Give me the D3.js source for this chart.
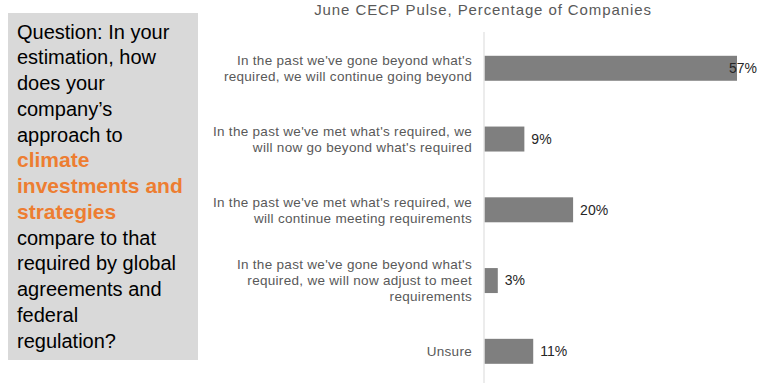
<!DOCTYPE html>
<html><head><meta charset="utf-8">
<script src="https://cdn.jsdelivr.net/npm/d3@7"></script>
<style>body{margin:0;background:#fff}svg{display:block}</style>
</head><body>
<svg id="c" width="770" height="383"></svg>
<script>
const title = "June CECP Pulse, Percentage of Companies";
const categories = [
  "In the past we've gone beyond what's required, we will continue going beyond",
  "In the past we've met what's required, we will now go beyond what's required",
  "In the past we've met what's required, we will continue meeting requirements",
  "In the past we've gone beyond what's required, we will now adjust to meet requirements",
  "Unsure"
];
const categoryLines = [
  ["In the past we've gone beyond what's", "required, we will continue going beyond"],
  ["In the past we've met what's required, we", "will now go beyond what's required"],
  ["In the past we've met what's required, we", "will continue meeting requirements"],
  ["In the past we've gone beyond what's", "required, we will now adjust to meet", "requirements"],
  ["Unsure"]
];
const values = [57, 9, 20, 3, 11];
const questionLines = [
  {t:"Question: In your", hl:false},
  {t:"estimation, how", hl:false},
  {t:"does your", hl:false},
  {t:"company\u2019s", hl:false},
  {t:"approach to", hl:false},
  {t:"climate", hl:true},
  {t:"investments and", hl:true},
  {t:"strategies", hl:true},
  {t:"compare to that", hl:false},
  {t:"required by global", hl:false},
  {t:"agreements and", hl:false},
  {t:"federal", hl:false},
  {t:"regulation?", hl:false}
];

const svg = d3.select("#c");
const font = "'Liberation Sans', Arial, sans-serif";

// Question box
svg.append("rect").attr("x", 8).attr("y", 13).attr("width", 190).attr("height", 347).attr("fill", "#d9d9d9");
const qt = svg.append("text").attr("font-family", font);
questionLines.forEach((l, i) => {
  qt.append("tspan").attr("x", 17).attr("y", 38.5 + i * 25.75)
    .attr("fill", l.hl ? "#ed7d31" : "#000")
    .attr("font-weight", l.hl ? "bold" : "normal")
    .attr("font-size", l.hl ? 21 : 20)
    .text(l.t);
});

// Chart
const x0 = 484.5;
const x = d3.scaleLinear().domain([0, 57]).range([x0, 737]);
const y = d3.scaleBand().domain(categories).range([32.9, 386.7]).paddingInner(0.647).paddingOuter(0.3235);

svg.append("text").attr("x", 483).attr("y", 15).attr("text-anchor", "middle")
  .attr("font-family", font).attr("font-size", 15).attr("letter-spacing", 0.9)
  .attr("fill", "#595959").text(title);

svg.selectAll("rect.bar").data(values).join("rect").attr("class", "bar")
  .attr("x", x0).attr("y", (d, i) => y(categories[i]))
  .attr("width", d => x(d) - x0).attr("height", y.bandwidth())
  .attr("fill", "#7f7f7f");

svg.append("line").attr("x1", x0 - 0.5).attr("x2", x0 - 0.5).attr("y1", 32).attr("y2", 383)
  .attr("stroke", "#d9d9d9").attr("stroke-width", 1);

// Category labels
categories.forEach((c, i) => {
  const lines = categoryLines[i];
  const cy = y(c) + y.bandwidth() / 2;
  const t = svg.append("text").attr("font-family", font).attr("font-size", 13.5)
    .attr("letter-spacing", 0.3)
    .attr("fill", "#595959").attr("text-anchor", "end");
  lines.forEach((l, j) => {
    t.append("tspan").attr("x", 472).attr("y", cy + (j - (lines.length - 1) / 2) * 16).attr("dy", "0.35em").text(l);
  });
});

// Value labels
values.forEach((v, i) => {
  const cy = y(categories[i]) + y.bandwidth() / 2;
  const t = svg.append("text").attr("font-family", font).attr("font-size", 14)
    .attr("fill", "#262626").attr("y", cy).attr("dy", "0.35em").text(v + "%");
  const w = t.node().getComputedTextLength();
  t.attr("x", Math.min(x(v) + 7, 757 - w));
});
</script>
</body></html>
